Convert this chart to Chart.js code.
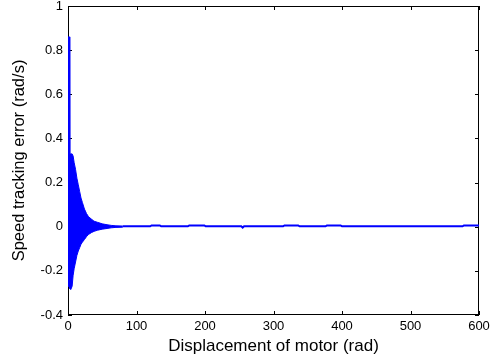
<!DOCTYPE html>
<html>
<head>
<meta charset="utf-8">
<script src="https://cdn.jsdelivr.net/npm/chart.js@4/dist/chart.umd.min.js"></script>
<style>
  body { margin: 0; background: #fff; }
  canvas { display: block; }
</style>
</head>
<body>
<canvas id="chart" width="494" height="360"></canvas>
<script>
// envelope of the fast oscillation at the start
const envX = [0, 2.2, 2.6, 4, 6, 7.5, 9, 11, 13, 15, 17, 19, 21, 24, 27, 30, 34, 38, 43, 50, 57, 63, 70, 80];
const envUpper = [0.86, 0.86, 0.33, 0.33, 0.33, 0.32, 0.29, 0.26, 0.22, 0.19, 0.16, 0.13, 0.11, 0.08, 0.06, 0.045, 0.035, 0.025, 0.02, 0.013, 0.009, 0.006, 0.004, 0.003];
const envLower = [-0.27, -0.27, -0.28, -0.285, -0.27, -0.22, -0.19, -0.16, -0.13, -0.11, -0.095, -0.08, -0.07, -0.058, -0.045, -0.035, -0.027, -0.021, -0.016, -0.011, -0.008, -0.005, -0.003, -0.002];

// the settled part, with the small steps seen along it
const tailX = [80, 120, 122, 134, 136, 175, 177, 199, 201, 253, 255, 257, 314, 316, 336, 338, 376, 378, 398, 400, 576, 578, 600];
const tailY = [0.002, 0.002, 0.006, 0.006, 0.002, 0.002, 0.006, 0.006, 0.002, 0.002, -0.004, 0.002, 0.002, 0.006, 0.006, 0.002, 0.002, 0.006, 0.006, 0.002, 0.002, 0.006, 0.006];

const xTicks = [0, 100, 200, 300, 400, 500, 600];
const yTicks = [-0.4, -0.2, 0, 0.2, 0.4, 0.6, 0.8, 1];

const blue = 'rgb(0,0,255)';

function toPoints(xs, ys) {
    return xs.map((x, i) => ({ x: x, y: ys[i] }));
}

// matlab style box with inward ticks, drawn under the data
const boxPlugin = {
    id: 'boxPlugin',
    beforeDatasetsDraw(chart) {
        const { ctx, chartArea: a, scales } = chart;
        ctx.save();
        ctx.strokeStyle = '#000';
        ctx.lineWidth = 1;
        ctx.strokeRect(a.left + 0.5, a.top + 0.5, a.right - a.left - 1, a.bottom - a.top - 1);
        ctx.beginPath();
        xTicks.forEach(v => {
            const px = Math.round(scales.x.getPixelForValue(v)) + 0.5;
            ctx.moveTo(px, a.bottom); ctx.lineTo(px, a.bottom - 4);
            ctx.moveTo(px, a.top); ctx.lineTo(px, a.top + 4);
        });
        yTicks.forEach(v => {
            const py = Math.round(scales.y.getPixelForValue(v)) + 0.5;
            ctx.moveTo(a.left, py); ctx.lineTo(a.left + 4, py);
            ctx.moveTo(a.right, py); ctx.lineTo(a.right - 4, py);
        });
        ctx.stroke();
        ctx.restore();
    }
};

Chart.defaults.font.family = '"Liberation Sans", Arial, sans-serif';
Chart.defaults.color = '#000';

new Chart(document.getElementById('chart'), {
    type: 'line',
    data: {
        datasets: [
            {
                data: toPoints(envX, envUpper),
                borderColor: blue,
                backgroundColor: blue,
                borderWidth: 1,
                pointRadius: 0,
                fill: '+1'
            },
            {
                data: toPoints(envX, envLower),
                borderColor: blue,
                borderWidth: 1,
                pointRadius: 0,
                fill: false
            },
            {
                data: toPoints(tailX, tailY),
                borderColor: blue,
                borderWidth: 2,
                pointRadius: 0,
                fill: false
            }
        ]
    },
    options: {
        responsive: false,
        animation: false,
        layout: { padding: { top: 6, right: 15, left: 0, bottom: 0 } },
        plugins: {
            legend: { display: false },
            tooltip: { enabled: false }
        },
        scales: {
            x: {
                type: 'linear',
                min: 0,
                max: 600,
                afterFit: s => { s.height = 45; s.paddingLeft = 0; s.paddingRight = 0; },
                afterBuildTicks: s => { s.ticks = xTicks.map(v => ({ value: v })); },
                grid: { display: false, drawTicks: false },
                border: { display: false },
                ticks: { font: { size: 13 }, padding: 4, maxRotation: 0 },
                title: {
                    display: true,
                    text: 'Displacement of motor (rad)',
                    font: { size: 17 },
                    padding: { top: 0, bottom: 3 }
                }
            },
            y: {
                min: -0.4,
                max: 1,
                afterFit: s => { s.width = 68; s.paddingTop = 0; s.paddingBottom = 0; },
                afterBuildTicks: s => { s.ticks = yTicks.map(v => ({ value: v })); },
                grid: { display: false, drawTicks: false },
                border: { display: false },
                ticks: {
                    font: { size: 13 },
                    padding: 5,
                    callback: v => String(Number(v.toFixed(1)))
                },
                title: {
                    display: true,
                    text: 'Speed tracking error (rad/s)',
                    font: { size: 16.5 },
                    padding: { top: 10, bottom: 0 }
                }
            }
        }
    },
    plugins: [boxPlugin]
});
</script>
</body>
</html>
